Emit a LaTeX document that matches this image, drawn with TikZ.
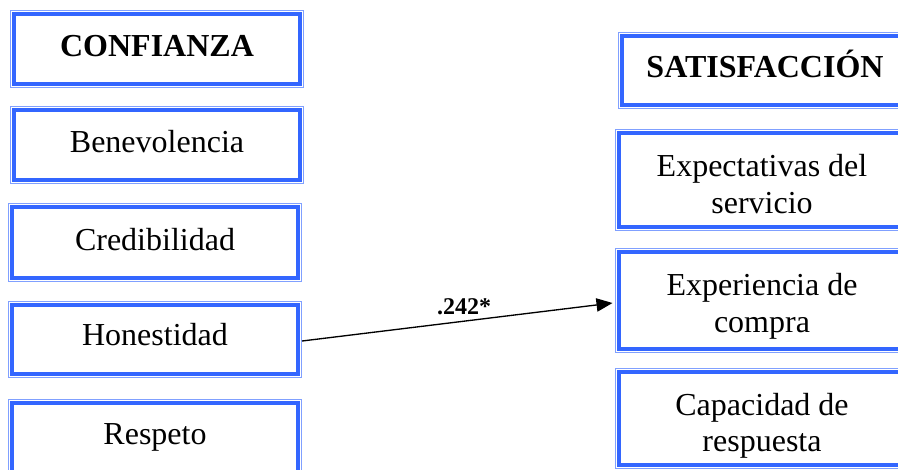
\documentclass[tikz,border=0pt]{standalone}
\usepackage{fontspec}
\setmainfont{Liberation Serif}
\usetikzlibrary{arrows.meta}
\definecolor{frameblue}{RGB}{51,102,255}
\definecolor{rimblue}{RGB}{128,160,255}
\begin{document}
\begin{tikzpicture}[x=0.75pt, y=-0.75pt,
  panel/.style={draw=rimblue, line width=0.75pt, inner sep=0pt,
    minimum width=219.75pt,
    path picture={\draw[frameblue, line width=3pt]
      ([shift={(2.625pt,-2.625pt)}]path picture bounding box.north west) rectangle
      ([shift={(-2.625pt,2.625pt)}]path picture bounding box.south east);}},
  lbl/.style={anchor=base, inner sep=0pt, font=\fontsize{24}{28}\selectfont},
  headlbl/.style={lbl, font=\fontsize{24}{28}\selectfont\bfseries},
  coef/.style={anchor=base, inner sep=0pt, font=\fontsize{18}{21}\selectfont\bfseries},
  link/.style={-{Triangle[length=12pt,width=10pt]}, line width=1pt}
]
\useasboundingbox (0,0) rectangle (898,469);
\clip (0,0) rectangle (898,469);

% left column: trust and its dimensions
\node[panel, minimum height=57.75pt] (conf) at (157,49) {};
\node[panel, minimum height=57.75pt] (bene) at (157,145) {};
\node[panel, minimum height=58.5pt]  (cred) at (155,242.5) {};
\node[panel, minimum height=57pt]    (hon)  at (155,339.5) {};
\node[panel, minimum height=58.5pt]  (resp) at (155,438.5) {};

\node[headlbl] (conf-t) at (157,56)  {CONFIANZA};
\node[lbl]     (bene-t) at (157,152) {Benevolencia};
\node[lbl]     (cred-t) at (155,250) {Credibilidad};
\node[lbl]     (hon-t)  at (155,345) {Honestidad};
\node[lbl]     (resp-t) at (155,444) {Respeto};

% right column: satisfaction and its dimensions
\node[panel, minimum height=57pt]    (sat)  at (765,70.5)  {};
\node[panel, minimum height=75.75pt] (expc) at (762,180)   {};
\node[panel, minimum height=78pt]    (expr) at (762,300.5) {};
\node[panel, minimum height=75pt]    (cap)  at (762,418.5) {};

\node[headlbl] (sat-t)   at (765,77)    {SATISFACCIÓN};
\node[lbl]     (expc-t1) at (762,176)   {Expectativas del};
\node[lbl]     (expc-t2) at (762,213)   {servicio};
\node[lbl]     (expr-t1) at (762,295)   {Experiencia de};
\node[lbl]     (expr-t2) at (762,332)   {compra};
\node[lbl]     (cap-t1)  at (762,415)   {Capacidad de};
\node[lbl]     (cap-t2)  at (762,451)   {respuesta};

% path coefficient
\draw[link] ([yshift=-1.125pt]hon.east) -- ([xshift=-1.875pt,yshift=-1.875pt]expr.west);
\node[coef] (beta) at (464,314) {.242*};
\end{tikzpicture}
\end{document}
